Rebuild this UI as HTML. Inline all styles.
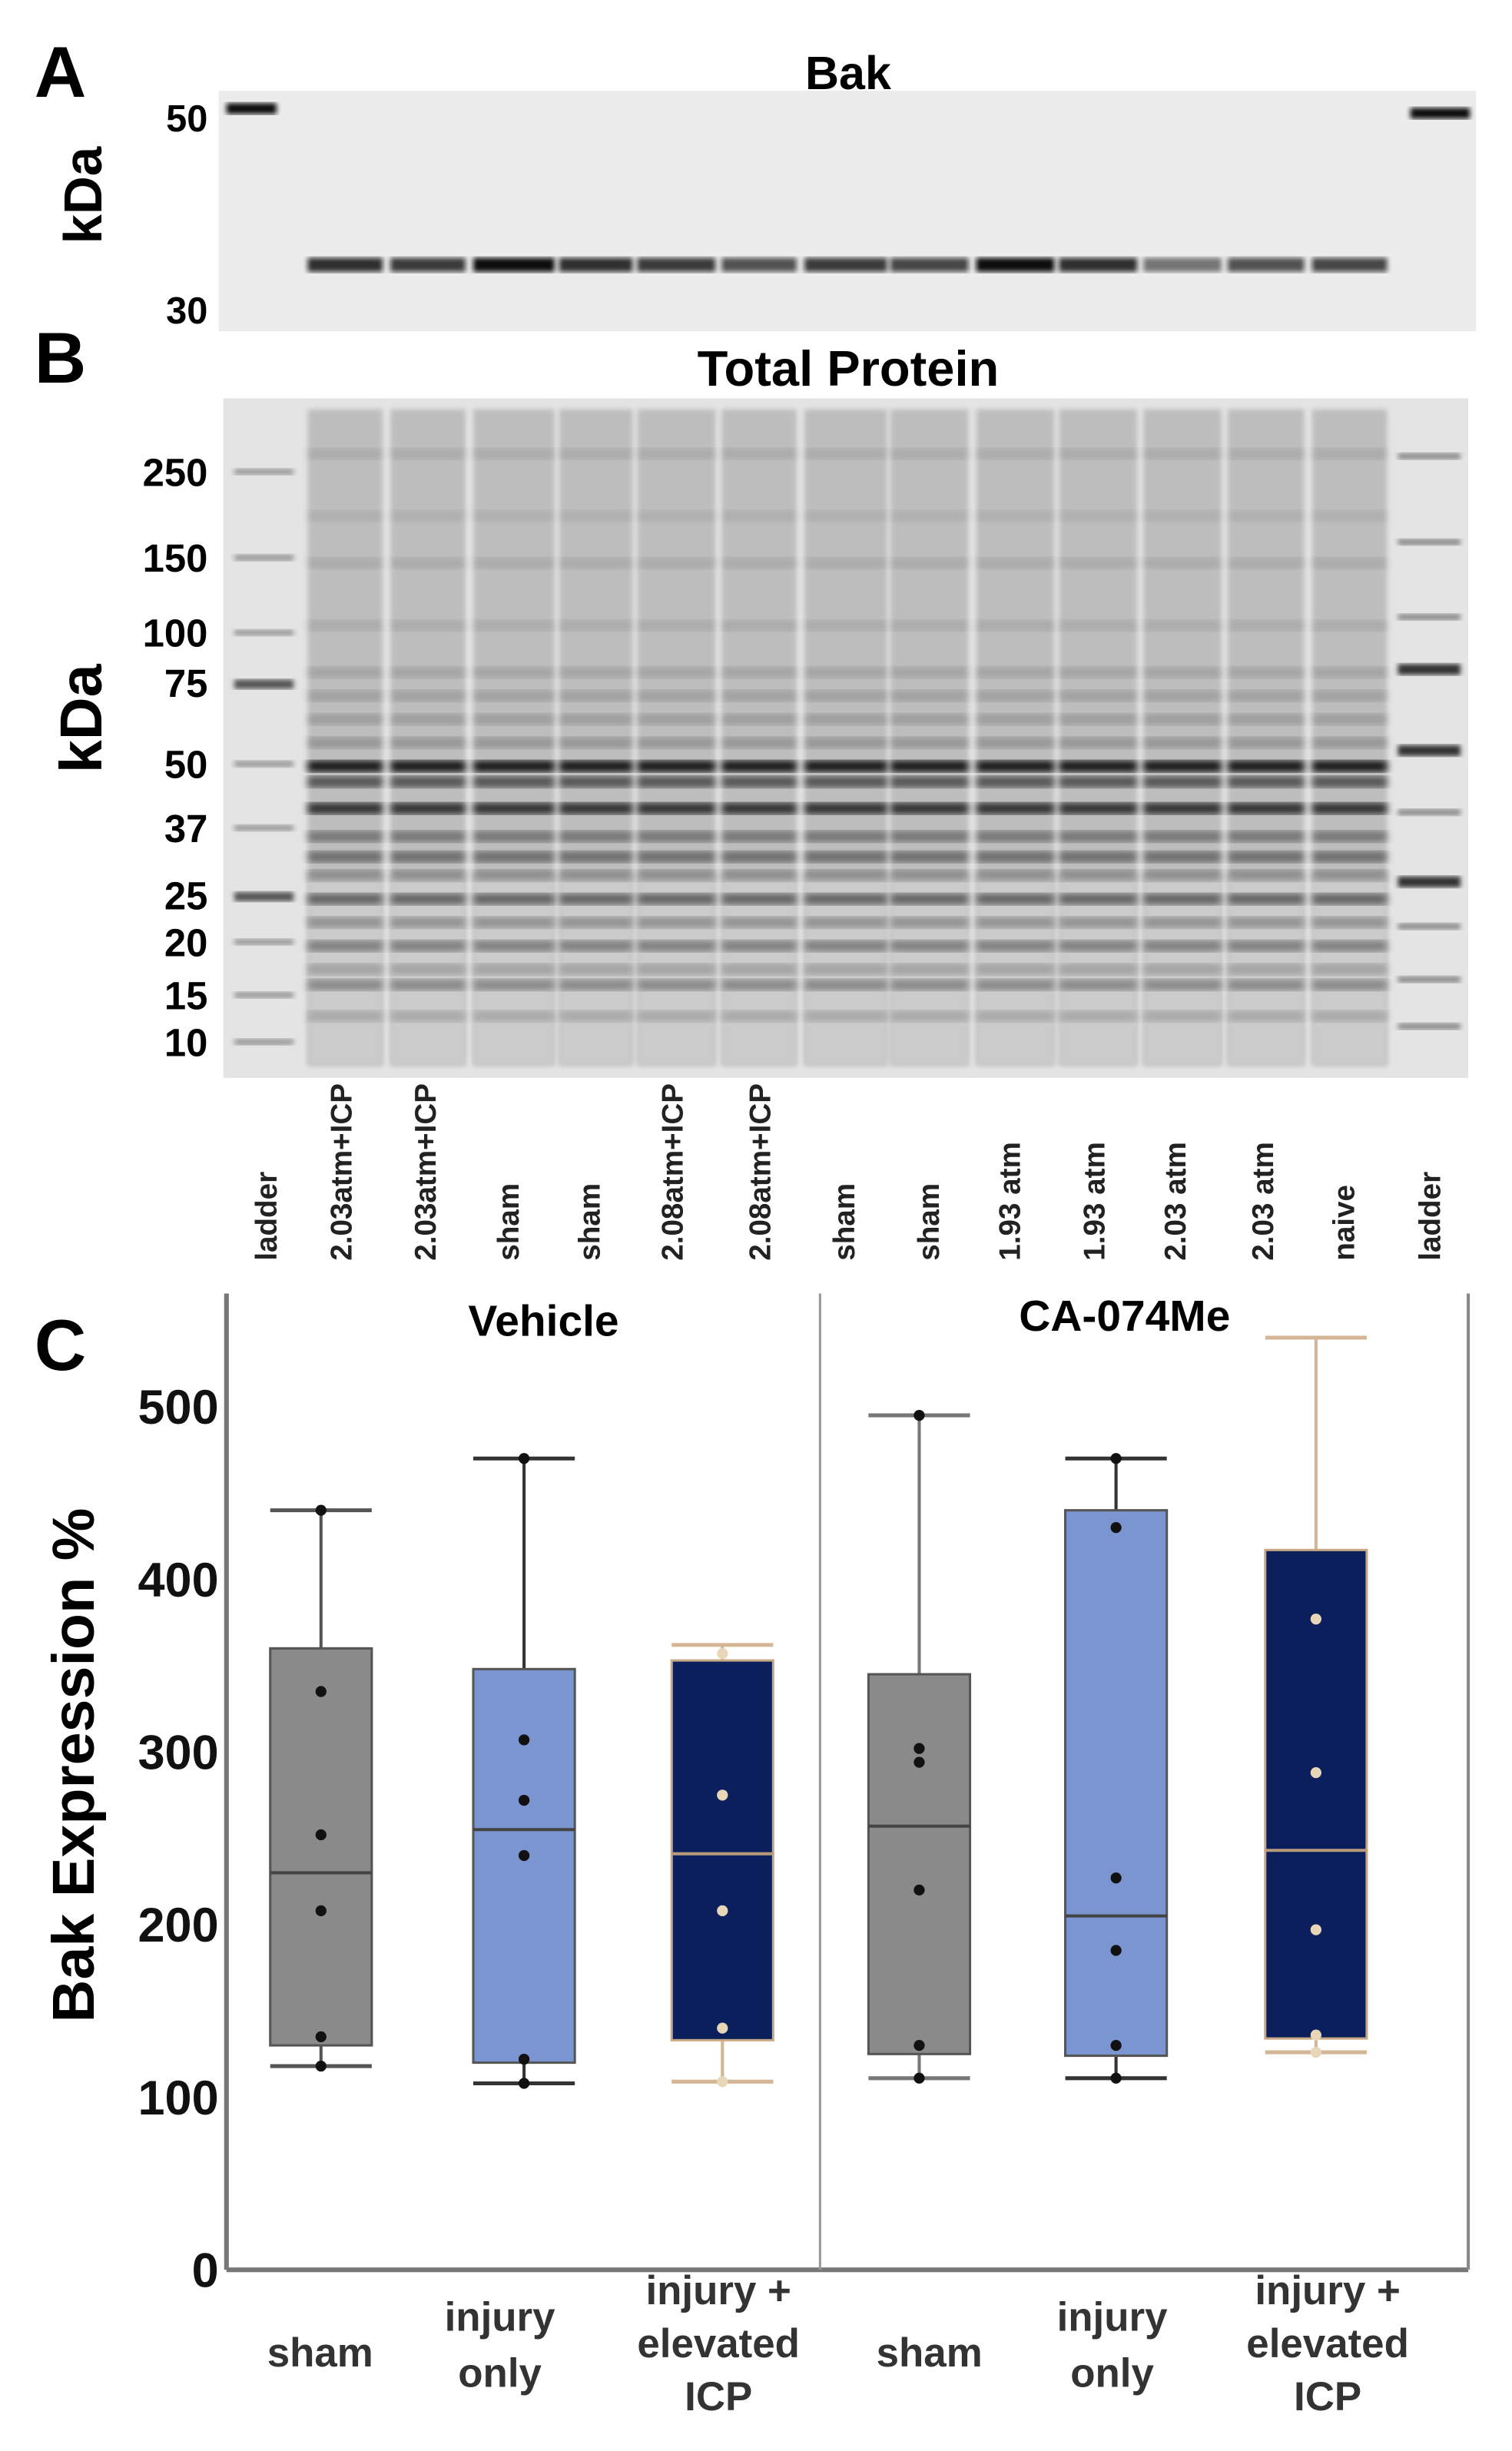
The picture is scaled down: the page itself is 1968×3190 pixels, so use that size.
<!DOCTYPE html>
<html><head><meta charset="utf-8">
<style>
html,body{margin:0;padding:0;background:#fff;}
svg{display:block;}
text{font-family:"Liberation Sans",Arial,sans-serif;font-weight:bold;}
</style></head>
<body>
<svg id="fig" width="1968" height="3190" viewBox="0 0 968 1569" preserveAspectRatio="none" xmlns="http://www.w3.org/2000/svg">
<defs>
<filter id="blur1"><feGaussianBlur stdDeviation="1.6"/></filter>
<filter id="blur2"><feGaussianBlur stdDeviation="2.5"/></filter>
</defs>
<g id="panelA"></g>
<g id="panelB"></g>
<g id="panelC"></g>
</svg>
<script>
// ---- chart data ----
const categories = ["sham","injury only","injury + elevated ICP","sham","injury only","injury + elevated ICP"];
const groups = ["Vehicle","CA-074Me"];
const q1Values = [130,120,133,125,124,134];
const q3Values = [360,348,353,345,440,417];
const medianValues = [230,255,241,257,205,243];
const whiskerLow = [118,108,109,111,111,126];
const whiskerHigh = [440,470,362,495,470,540];
const pointValues = [
  [440,335,252,208,135,118],
  [470,307,272,240,122,108],
  [357,275,208,140,109],
  [495,302,294,220,130,111],
  [470,430,227,185,130,111],
  [377,288,197,136,126]
];
const yTicks = [0,100,200,300,400,500];
const laneLabels = ["ladder","2.03atm+ICP","2.03atm+ICP","sham","sham","2.08atm+ICP","2.08atm+ICP","sham","sham","1.93 atm","1.93 atm","2.03 atm","2.03 atm","naive","ladder"];
const bakIntensity = [0.85,0.8,1,0.85,0.8,0.7,0.8,0.75,1,0.85,0.5,0.7,0.75];
const proteinMarkers = ["250","150","100","75","50","37","25","20","15","10"];

const NS="http://www.w3.org/2000/svg";
function mk(parent,tag,attrs,txt){const e=document.createElementNS(NS,tag);for(const k in attrs)e.setAttribute(k,attrs[k]);if(txt!==undefined)e.textContent=txt;parent.appendChild(e);return e;}

const laneL=[197,250,303,358,408,462,515,570,625,678,732,786,840];
const laneR=[245,298,355,405,458,510,568,620,675,728,782,835,888];

// ---- Panel A ----
const A=document.getElementById('panelA');
let t=mk(A,'text',{x:22,y:62,'font-size':46},'A');

t=mk(A,'text',{x:543,y:57,'font-size':30,'text-anchor':'middle'},'Bak');

let r=mk(A,'rect',{x:140,y:58,width:805,height:154,fill:'#ececec'});

mk(A,'rect',{x:145,y:66,width:32,height:7,fill:'#111',filter:'url(#blur1)'});
mk(A,'rect',{x:903,y:69,width:38,height:7,fill:'#111',filter:'url(#blur1)'});
laneL.forEach((l,i)=>{const b=mk(A,'rect',{x:l,y:165,width:laneR[i]-l,height:9,fill:`rgba(10,10,10,${bakIntensity[i]})`,filter:'url(#blur1)'});
});
t=mk(A,'text',{x:133,y:84,'font-size':24,'text-anchor':'end'},'50');
t=mk(A,'text',{x:133,y:207,'font-size':24,'text-anchor':'end'},'30');
t=mk(A,'text',{x:0,y:0,'font-size':34,'text-anchor':'middle',transform:'translate(65,125) rotate(-90)'},'kDa');


// ---- Panel B ----
const B=document.getElementById('panelB');
t=mk(B,'text',{x:22,y:245,'font-size':46},'B');
t=mk(B,'text',{x:543,y:247,'font-size':32,'text-anchor':'middle'},'Total Protein');
r=mk(B,'rect',{x:143,y:255,width:797,height:435,fill:'#e4e4e4'});
const markerY=[302,357,405,437,489,530,573,603,637,667];
markerY.forEach((y,i)=>{
  t=mk(B,'text',{x:133,y:y+9,'font-size':25,'text-anchor':'end'},proteinMarkers[i]);
  
  mk(B,'rect',{x:150,y:y-2,width:38,height:(i==3||i==6)?6:4,fill:(i==3||i==6)?'#555':'#999',filter:'url(#blur1)'});
  mk(B,'rect',{x:895,y:y-12,width:40,height:(i==3||i==6||i==4)?7:4,fill:(i==3||i==6||i==4)?'#333':'#888',filter:'url(#blur1)'});
});
const smear=[[290,0.1],[330,0.08],[360,0.1],[400,0.1],[430,0.14],[445,0.16],[460,0.18],[475,0.22],[490,0.95],[500,0.6],[517,0.8],[535,0.4],[548,0.45],[560,0.3],[575,0.55],[590,0.3],[605,0.4],[620,0.22],[630,0.35],[650,0.18]];
laneL.forEach((l,i)=>{
  const w=laneR[i]-l;
  const g=mk(B,'g',{});
  
  mk(g,'rect',{x:l,y:262,width:w,height:420,fill:'#bdbdbd',filter:'url(#blur1)'});
  mk(g,'rect',{x:l,y:560,width:w,height:122,fill:'#cbcbcb',filter:'url(#blur1)'});
  smear.forEach(s=>mk(g,'rect',{x:l,y:s[0]-3,width:w,height:7,fill:`rgba(0,0,0,${s[1]})`,filter:'url(#blur2)'}));
});
t=mk(B,'text',{x:0,y:0,'font-size':38,'text-anchor':'middle',transform:'translate(65,460) rotate(-90)'},'kDa');

const labX=[170,218,272,325,377,430,486,540,594,646,700,752,808,860,915];
laneLabels.forEach((s,i)=>{
  t=mk(B,'text',{x:0,y:0,'font-size':19,'text-anchor':'start',fill:'#222',transform:`translate(${labX[i]+7},807) rotate(-90)`},s);
  
});

// ---- Panel C ----
const C=document.getElementById('panelC');
const x0=145,x1=940,yBase=1453,pxPer=1.105;
const yScale=v=>yBase-v*pxPer;
const boxL=[173,303,430,556,682,810], boxW=65;
const labelCx=[205,320,460,595,712,850];
const fills=['#8a8a8a','#7b95d0','#0a1f5c','#8a8a8a','#7b95d0','#0a1f5c'];
const wcol=['#555','#333','#d4b696','#777','#333','#d4b696'];
const pcol=['#111','#111','#e8d6b8','#111','#111','#e8d6b8'];
t=mk(C,'text',{x:22,y:877,'font-size':46},'C');
let ln=mk(C,'line',{x1:x0,y1:828,x2:x0,y2:yBase,stroke:'#777','stroke-width':3});
ln=mk(C,'line',{x1:x0,y1:yBase,x2:x1,y2:yBase,stroke:'#777','stroke-width':3});
ln=mk(C,'line',{x1:x1,y1:828,x2:x1,y2:yBase,stroke:'#888','stroke-width':2});
ln=mk(C,'line',{x1:525,y1:828,x2:525,y2:yBase,stroke:'#999','stroke-width':1.5});
t=mk(C,'text',{x:348,y:855,'font-size':28,'text-anchor':'middle'},groups[0]);
t=mk(C,'text',{x:720,y:852,'font-size':28,'text-anchor':'middle'},groups[1]);
yTicks.forEach(v=>{t=mk(C,'text',{x:140,y:yScale(v)+11,'font-size':31,'text-anchor':'end',fill:'#111'},String(v));
});
t=mk(C,'text',{x:0,y:0,'font-size':38,'text-anchor':'middle',transform:'translate(60,1130) rotate(-90)'},'Bak Expression %');

categories.forEach((c,i)=>{
  const cx=boxL[i]+boxW/2;
  const g=mk(C,'g',{});
  
  mk(g,'line',{x1:cx,y1:yScale(whiskerHigh[i]),x2:cx,y2:yScale(whiskerLow[i]),stroke:wcol[i],'stroke-width':2});
  mk(g,'line',{x1:boxL[i],y1:yScale(whiskerHigh[i]),x2:boxL[i]+boxW,y2:yScale(whiskerHigh[i]),stroke:wcol[i],'stroke-width':2.5});
  mk(g,'line',{x1:boxL[i],y1:yScale(whiskerLow[i]),x2:boxL[i]+boxW,y2:yScale(whiskerLow[i]),stroke:wcol[i],'stroke-width':2.5});
  mk(g,'rect',{x:boxL[i],y:yScale(q3Values[i]),width:boxW,height:yScale(q1Values[i])-yScale(q3Values[i]),fill:fills[i],stroke:i%3==2?'#c9a985':'#555','stroke-width':1.5});
  mk(g,'line',{x1:boxL[i],y1:yScale(medianValues[i]),x2:boxL[i]+boxW,y2:yScale(medianValues[i]),stroke:i%3==2?'#b89a7a':'#444','stroke-width':2});
  pointValues[i].forEach(v=>{const p=mk(g,'circle',{cx:cx,cy:yScale(v),r:3.5,fill:pcol[i]});
  });
  const lines=c==='sham'?['sham']:c==='injury only'?['injury','only']:['injury +','elevated','ICP'];
  const ys=lines.length==1?[1515]:lines.length==2?[1492,1528]:[1475,1509,1543];
  lines.forEach((s,k)=>{t=mk(C,'text',{x:labelCx[i],y:ys[k],'font-size':26,'text-anchor':'middle',fill:'#333'},s);
  });
});
</script>
</body></html>
